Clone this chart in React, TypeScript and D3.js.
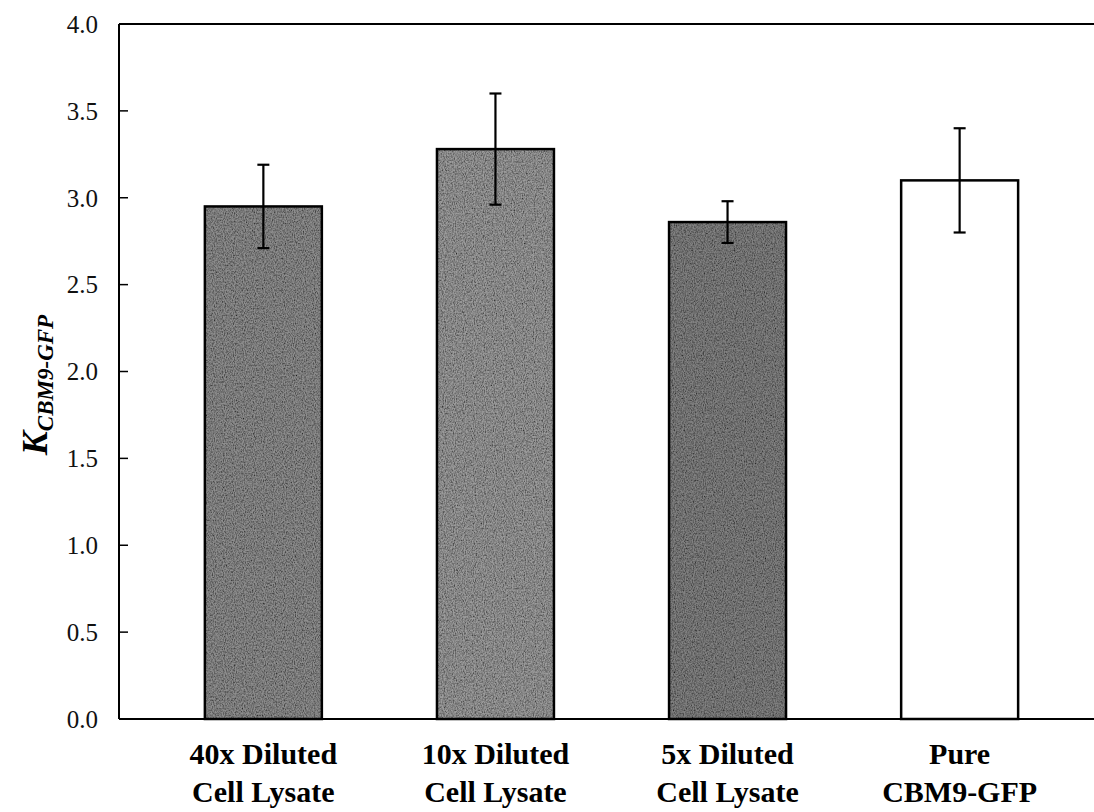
import React from "react";
import * as d3 from "d3";

const categories = [
  ["40x Diluted", "Cell Lysate"],
  ["10x Diluted", "Cell Lysate"],
  ["5x Diluted", "Cell Lysate"],
  ["Pure", "CBM9-GFP"],
];
const values = [2.95, 3.28, 2.86, 3.1];
const errors = [0.24, 0.32, 0.12, 0.3];
const textured = [true, true, true, false];
const yTicks = [0, 0.5, 1, 1.5, 2, 2.5, 3, 3.5, 4];

const W = 1094;
const H = 812;
const left = 119;
const top = 24;
const bottom = 719;
const right = 1104;

export default function App() {
  const y = d3.scaleLinear().domain([0, 4]).range([bottom, top]);
  const x = d3
    .scaleBand<number>()
    .domain(values.map((_, i) => i))
    .range([left, right])
    .paddingInner(0.496)
    .paddingOuter(0.37);
  const serif = "'Liberation Serif', 'Times New Roman', serif";
  const shades = ["#8e8e8e", "#9c9c9c", "#828282"];

  return (
    <svg
      width={W}
      height={H}
      style={{ position: "absolute", left: 0, top: 0, background: "#fff" }}
    >
      <defs>
        {shades.map((c, i) => (
          <filter key={i} id={`grain${i}`} x="0" y="0" width="100%" height="100%">
            <feTurbulence type="fractalNoise" baseFrequency="0.9 0.6" numOctaves="2" seed={i * 7 + 3} result="noise" />
            <feColorMatrix
              in="noise"
              type="matrix"
              values="0 0 0 0 0  0 0 0 0 0  0 0 0 0 0  0 0 0 -1.6 1.1"
              result="dark"
            />
            <feComposite in="dark" in2="SourceGraphic" operator="in" result="darkIn" />
            <feBlend in="darkIn" in2="SourceGraphic" mode="multiply" />
          </filter>
        ))}
      </defs>

      {/* frame: left axis, bottom axis and top border */}
      <line x1={left} x2={left} y1={top} y2={bottom} stroke="#000" strokeWidth={2} />
      <line x1={left} x2={W} y1={bottom} y2={bottom} stroke="#000" strokeWidth={2} />
      <line x1={left} x2={W} y1={top} y2={top} stroke="#000" strokeWidth={2} />

      {/* y ticks */}
      {yTicks.map((t) => (
        <g key={t}>
          <line x1={left} x2={left + 9} y1={y(t)} y2={y(t)} stroke="#000" strokeWidth={1.5} />
          <text
            x={98}
            y={y(t)}
            dy="0.35em"
            textAnchor="end"
            fontFamily={serif}
            fontSize={25}
            fill="#111"
          >
            {t.toFixed(1)}
          </text>
        </g>
      ))}

      {/* bars */}
      {values.map((v, i) => {
        const bx = x(i)!;
        const bw = x.bandwidth();
        return (
          <g key={i}>
            {textured[i] ? (
              <rect
                x={bx}
                y={y(v)}
                width={bw}
                height={bottom - y(v)}
                fill={shades[i]}
                filter={`url(#grain${i})`}
              />
            ) : null}
            <rect
              x={bx}
              y={y(v)}
              width={bw}
              height={bottom - y(v)}
              fill={textured[i] ? "none" : "#fff"}
              stroke="#000"
              strokeWidth={2.5}
            />
          </g>
        );
      })}

      {/* error bars */}
      {values.map((v, i) => {
        const cx = x(i)! + x.bandwidth() / 2;
        const hi = y(v + errors[i]);
        const lo = y(v - errors[i]);
        return (
          <g key={i} stroke="#000" strokeWidth={2.2}>
            <line x1={cx} x2={cx} y1={hi} y2={lo} />
            <line x1={cx - 6} x2={cx + 6} y1={hi} y2={hi} />
            <line x1={cx - 6} x2={cx + 6} y1={lo} y2={lo} />
          </g>
        );
      })}

      {/* category labels */}
      {categories.map((lines, i) => {
        const cx = x(i)! + x.bandwidth() / 2;
        return (
          <text
            key={i}
            textAnchor="middle"
            fontFamily={serif}
            fontWeight="bold"
            fontSize={30}
            fill="#000"
          >
            {lines.map((l, j) => (
              <tspan key={j} x={cx} y={764 + j * 38}>
                {l}
              </tspan>
            ))}
          </text>
        );
      })}

      {/* y axis title */}
      <text
        transform={`translate(34, 385) rotate(-90)`}
        textAnchor="middle"
        fontFamily={serif}
        fontWeight="bold"
        fontStyle="italic"
        fill="#000"
      >
        <tspan fontSize={36} dy="0.35em">K</tspan>
        <tspan fontSize={23} dy="6">CBM9-GFP</tspan>
      </text>
    </svg>
  );
}
